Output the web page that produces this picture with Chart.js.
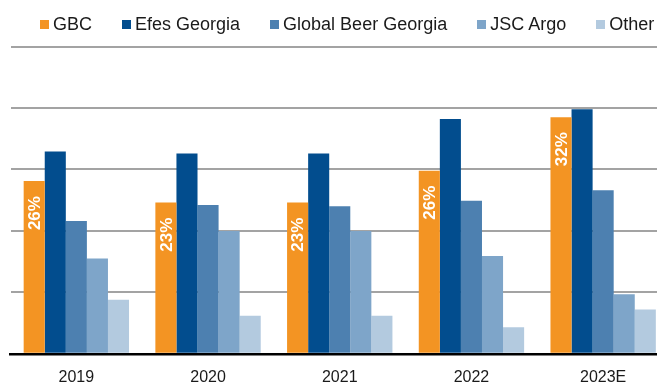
<!DOCTYPE html>
<html>
<head>
<meta charset="utf-8">
<script src="https://cdn.jsdelivr.net/npm/chart.js"></script>
<style>
  html, body { margin: 0; padding: 0; background: #fff; overflow: hidden; }
  #wrap { position: relative; width: 670px; height: 401px; }
  #chart { display: block; }
  #legend {
    position: absolute; top: 13px; left: 40px;
    display: flex; gap: 30px;
    font-family: "Liberation Sans", Arial, sans-serif; font-size: 18px; color: #1a1a1a;
    line-height: 22px; white-space: nowrap;
  }
  #legend span.item { display: flex; align-items: center; }
  #legend span.box { display: inline-block; width: 9px; height: 9px; margin-right: 4px; margin-top: 1px; }
</style>
</head>
<body>
<div id="wrap">
  <canvas id="chart" width="670" height="401"></canvas>
  <div id="legend"></div>
</div>
<script>
// categories and series (units: one gridline = 10)
const years = ['2019', '2020', '2021', '2022', '2023E'];
const seriesNames = ['GBC', 'Efes Georgia', 'Global Beer Georgia', 'JSC Argo', 'Other'];
const gbc = [28.1, 24.6, 24.6, 29.8, 38.5];
const efes = [32.9, 32.6, 32.6, 38.2, 39.8];
const globalBeer = [21.6, 24.2, 24.0, 24.9, 26.6];
const jscArgo = [15.5, 20.0, 20.0, 15.9, 9.7];
const other = [8.8, 6.2, 6.2, 4.3, 7.2];
const gbcShare = ['26%', '23%', '23%', '26%', '32%'];

const colors = ['#F39423', '#024D8E', '#4D80B0', '#7EA5C9', '#B3CADF'];
const allValues = [gbc, efes, globalBeer, jscArgo, other];

// html legend
const legendEl = document.getElementById('legend');
seriesNames.forEach(function(name, i) {
    const item = document.createElement('span');
    item.className = 'item';
    item.innerHTML = '<span class="box" style="background:' + colors[i] + '"></span>' + name;
    legendEl.appendChild(item);
});

// white share labels inside the GBC bars
const shareLabels = {
    id: 'shareLabels',
    afterDatasetsDraw(chart) {
        const ctx = chart.ctx;
        const meta = chart.getDatasetMeta(0);
        ctx.save();
        ctx.fillStyle = '#ffffff';
        ctx.font = 'bold 17px "Liberation Sans", Arial, sans-serif';
        ctx.textAlign = 'right';
        ctx.textBaseline = 'middle';
        meta.data.forEach(function(bar, i) {
            ctx.save();
            ctx.translate(bar.x + 1, bar.y + 15);
            ctx.rotate(-Math.PI / 2);
            ctx.fillText(gbcShare[i], 0, 0);
            ctx.restore();
        });
        ctx.restore();
    }
};

new Chart(document.getElementById('chart'), {
    type: 'bar',
    data: {
        labels: years,
        datasets: seriesNames.map(function(name, i) {
            return {
                label: name,
                data: allValues[i],
                backgroundColor: colors[i],
                borderWidth: 0,
                categoryPercentage: 0.8,
                barPercentage: 1.0
            };
        })
    },
    options: {
        responsive: false,
        animation: false,
        layout: { padding: { top: 46.5, left: 10.5, right: 1, bottom: 0 } },
        plugins: {
            legend: { display: false },
            tooltip: { enabled: false }
        },
        scales: {
            x: {
                z: 1,
                grid: { display: false, drawTicks: false },
                border: { display: true, color: '#000000', width: 2.5 },
                ticks: {
                    padding: 14,
                    maxRotation: 0,
                    color: '#1a1a1a',
                    font: { family: '"Liberation Sans", Arial, sans-serif', size: 16 }
                }
            },
            y: {
                min: 0,
                max: 50,
                ticks: { display: false, stepSize: 10 },
                grid: { color: '#a3a3a3', lineWidth: 2, drawTicks: false },
                border: { display: false },
                afterFit: function(scale) { scale.width = 0; }
            }
        }
    },
    plugins: [shareLabels]
});
</script>
</body>
</html>
